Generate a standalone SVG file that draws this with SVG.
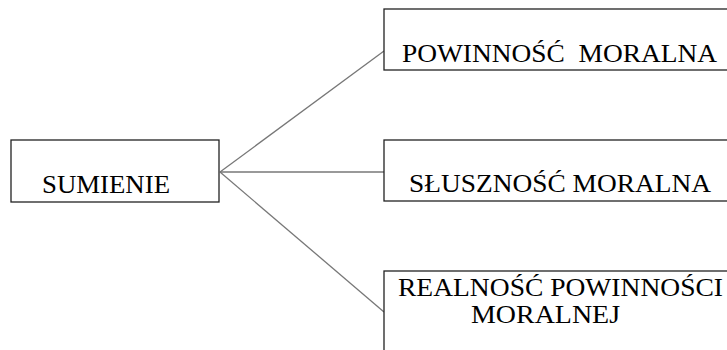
<svg xmlns="http://www.w3.org/2000/svg" width="727" height="350" viewBox="0 0 727 350">
<style>
.box{fill:#fff;stroke:#222;stroke-width:1.3}
.c{stroke:#777;stroke-width:1.3;fill:none}
</style>
<rect width="727" height="350" fill="#fff"/>
<g id="connectors">
<line class="c" x1="220" y1="172" x2="384" y2="51"/>
<line class="c" x1="220" y1="172" x2="384" y2="172"/>
<line class="c" x1="220" y1="172" x2="384" y2="312"/>
</g>
<g font-family="Liberation Serif, Times New Roman, serif" font-size="26" fill="#000">
<g id="sumienie">
<rect class="box" x="11" y="140" width="208" height="62"/>
<text x="42" y="193" textLength="128" lengthAdjust="spacingAndGlyphs">SUMIENIE</text>
</g>
<g id="powinnosc">
<rect class="box" x="384" y="9" width="360" height="61"/>
<text x="402" y="62" xml:space="preserve" textLength="315" lengthAdjust="spacingAndGlyphs">POWINNOŚĆ  MORALNA</text>
</g>
<g id="slusznosc">
<rect class="box" x="384" y="140" width="360" height="61"/>
<text x="409" y="192" textLength="302" lengthAdjust="spacingAndGlyphs">SŁUSZNOŚĆ MORALNA</text>
</g>
<g id="realnosc">
<rect class="box" x="384" y="271" width="360" height="100"/>
<text x="398" y="296" textLength="325" lengthAdjust="spacingAndGlyphs">REALNOŚĆ POWINNOŚCI</text>
<text x="471" y="323" textLength="149" lengthAdjust="spacingAndGlyphs">MORALNEJ</text>
</g>
</g>
</svg>
